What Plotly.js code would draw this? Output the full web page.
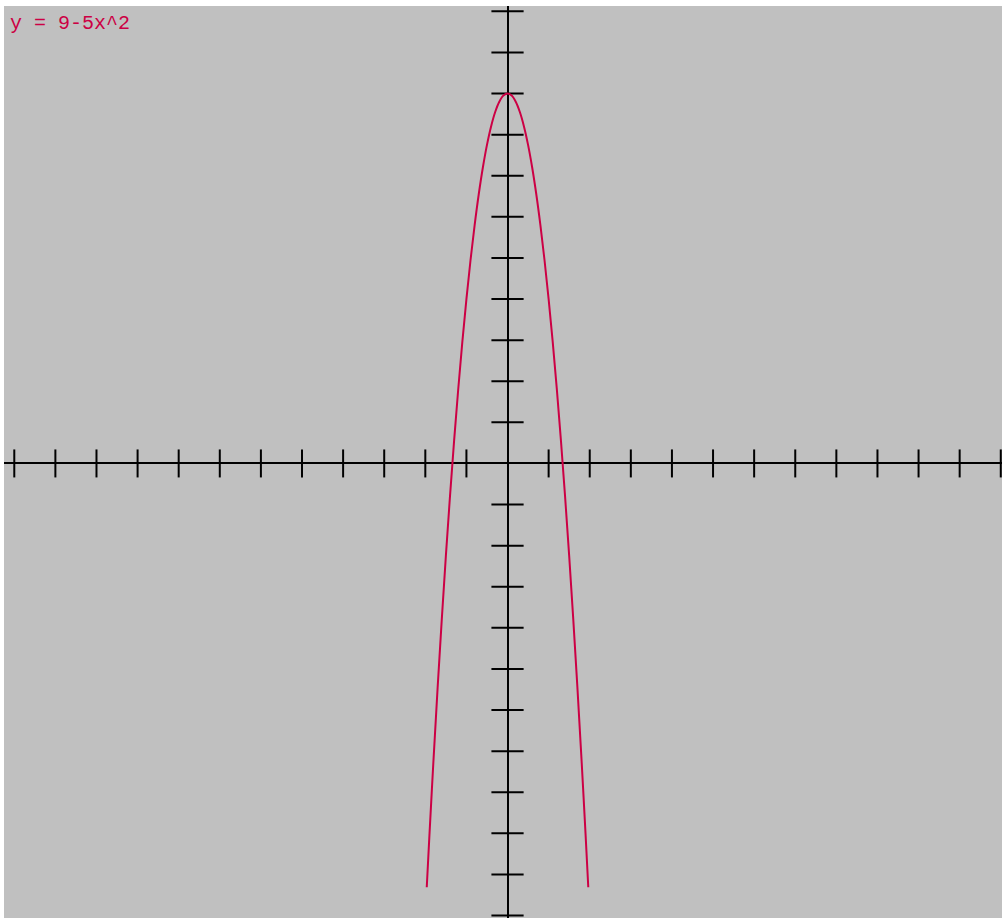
<!DOCTYPE html>
<html>
<head>
<meta charset="utf-8">
<script src="https://cdn.plot.ly/plotly-3.0.1.min.js"></script>
<style>
  html, body { margin: 0; padding: 0; background: #ffffff; }
  #chart { width: 1002px; height: 918px; }
</style>
</head>
<body>
<div id="chart"></div>
<script>
// Curve samples (y = 9-5x^2)
const curveX = [-1.965, -1.9, -1.8, -1.7, -1.6, -1.5, -1.4, -1.3, -1.2, -1.1, -1.0, -0.9, -0.8, -0.7, -0.6, -0.5, -0.4, -0.3, -0.2, -0.1, 0,
                0.1, 0.2, 0.3, 0.4, 0.5, 0.6, 0.7, 0.8, 0.9, 1.0, 1.1, 1.2, 1.3, 1.4, 1.5, 1.6, 1.7, 1.8, 1.9, 1.965];
const curveY = [-10.31, -9.05, -7.2, -5.45, -3.8, -2.25, -0.8, 0.55, 1.8, 2.95, 4.0, 4.95, 5.8, 6.55, 7.2, 7.75, 8.2, 8.55, 8.8, 8.95, 9.0,
                8.95, 8.8, 8.55, 8.2, 7.75, 7.2, 6.55, 5.8, 4.95, 4.0, 2.95, 1.8, 0.55, -0.8, -2.25, -3.8, -5.45, -7.2, -9.05, -10.31];
const xTickVals = [-12, -11, -10, -9, -8, -7, -6, -5, -4, -3, -2, -1, 1, 2, 3, 4, 5, 6, 7, 8, 9, 10, 11, 12];
const yTickVals = [-11, -10, -9, -8, -7, -6, -5, -4, -3, -2, -1, 1, 2, 3, 4, 5, 6, 7, 8, 9, 10, 11];
const equationLabel = "y = 9-5x^2";

const curveColor = "#cc0044";

const traces = [
  {
    x: xTickVals,
    y: xTickVals.map(() => 0),
    mode: "markers",
    marker: { symbol: "line-ns-open", size: 20, color: "#000000", line: { color: "#000000", width: 2 } },
    hoverinfo: "skip",
    showlegend: false,
    cliponaxis: false
  },
  {
    x: yTickVals.map(() => 0),
    y: yTickVals,
    mode: "markers",
    marker: { symbol: "line-ew-open", size: 23, color: "#000000", line: { color: "#000000", width: 2 } },
    hoverinfo: "skip",
    showlegend: false,
    cliponaxis: false
  },
  {
    x: curveX,
    y: curveY,
    mode: "lines",
    line: { color: curveColor, width: 2, shape: "spline" },
    showlegend: false,
    hoverinfo: "skip"
  }
];

const layout = {
  width: 1002,
  height: 918,
  margin: { l: 4, r: 0, t: 6, b: 0, pad: 0 },
  paper_bgcolor: "#ffffff",
  plot_bgcolor: "#c0c0c0",
  showlegend: false,
  xaxis: {
    range: [-12.25, 12.03],
    showgrid: false,
    showticklabels: false,
    ticks: "",
    showline: false,
    zeroline: true,
    zerolinecolor: "#000000",
    zerolinewidth: 2,
    fixedrange: true
  },
  yaxis: {
    range: [-11.06, 11.13],
    showgrid: false,
    showticklabels: false,
    ticks: "",
    showline: false,
    zeroline: true,
    zerolinecolor: "#000000",
    zerolinewidth: 2,
    fixedrange: true
  },
  annotations: [
    {
      text: equationLabel,
      xref: "paper",
      yref: "paper",
      x: 0,
      y: 1,
      xanchor: "left",
      yanchor: "top",
      xshift: 4,
      yshift: -4,
      showarrow: false,
      font: { family: "Liberation Mono, Courier New, monospace", size: 20, color: curveColor }
    }
  ]
};

Plotly.newPlot("chart", traces, layout, { displayModeBar: false, staticPlot: true });
</script>
</body>
</html>
